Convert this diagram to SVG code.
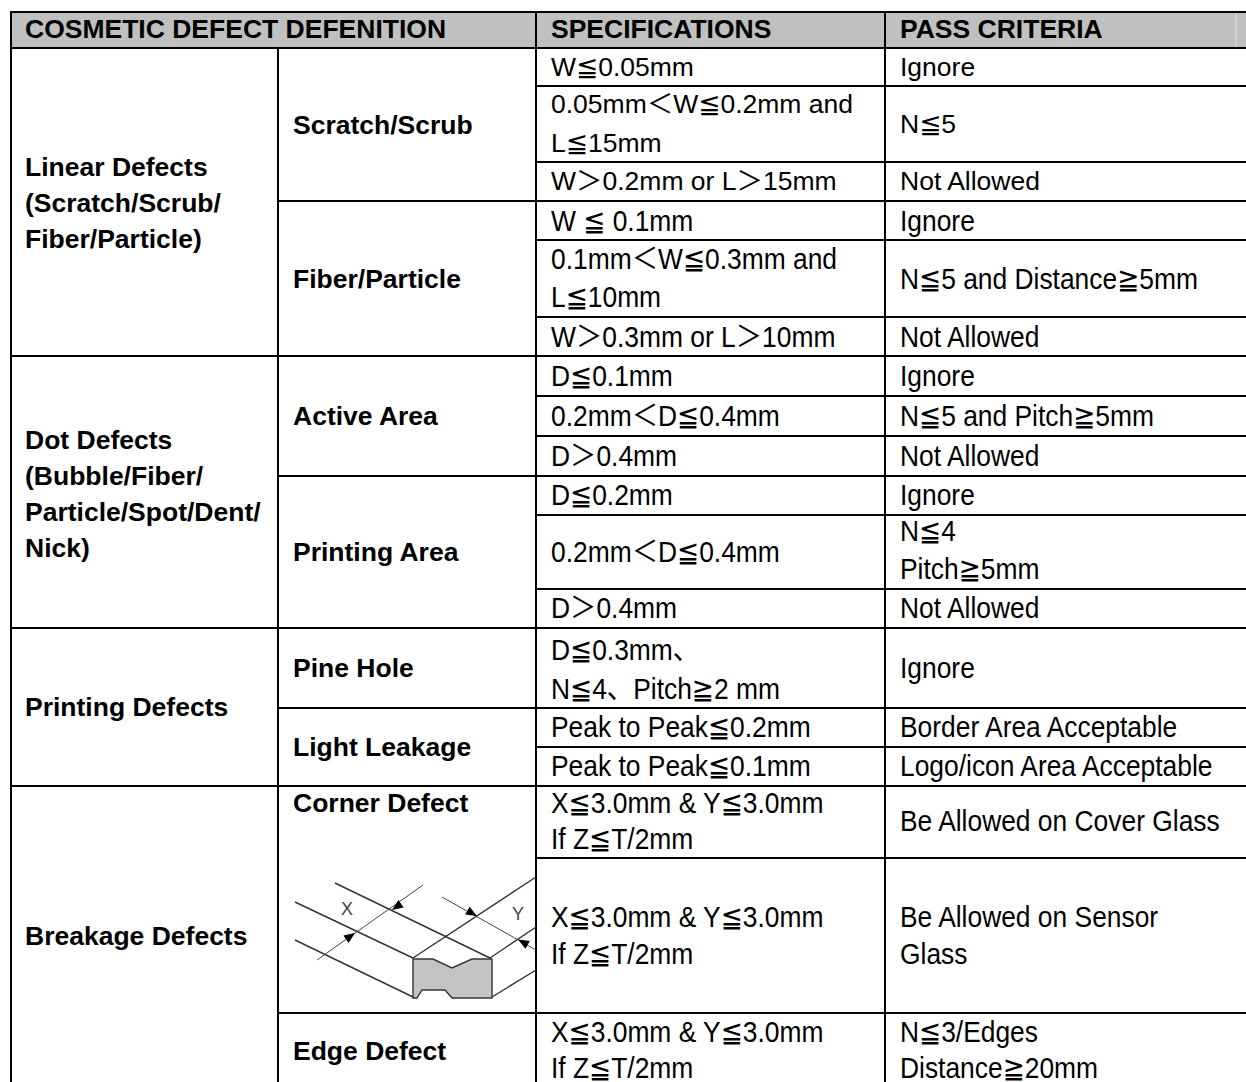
<svg xmlns="http://www.w3.org/2000/svg" width="1246" height="1082" viewBox="0 0 1246 1082">
<style>
text{fill:#000}
.h,.b{font-family:"Liberation Sans",Arial,sans-serif;font-weight:bold;font-size:26.5px}
.r{font-family:"Liberation Sans",Arial,"DejaVu Sans","Noto Sans CJK SC",sans-serif;font-size:26.5px}
.n{font-family:"Liberation Sans",Arial,"DejaVu Sans","Noto Sans CJK SC",sans-serif;font-size:29px}
.grid line{stroke:#000;stroke-width:2}
.fig line{stroke:#333;stroke-width:1.4}
.fig .thin{stroke:#444;stroke-width:1}
.lbl{font-family:"Liberation Sans",Arial,sans-serif;font-size:18px;fill:#444}
</style>
<defs>
<path id="ah" d="M0,0 L-11,-4.5 L-11,4.5 Z" fill="#000"/>
</defs>
<rect id="header-bg" x="11" y="12" width="1235" height="36" fill="#c0c0c0"/>
<line x1="1236" y1="13" x2="1236" y2="47" stroke="#e2e2e2" stroke-width="1"/>
<g class="grid" id="grid">
<line x1="10" y1="12" x2="1246" y2="12"/>
<line x1="10" y1="48" x2="1246" y2="48"/>
<line x1="536" y1="86" x2="1246" y2="86"/>
<line x1="536" y1="162" x2="1246" y2="162"/>
<line x1="278" y1="201" x2="1246" y2="201"/>
<line x1="536" y1="240" x2="1246" y2="240"/>
<line x1="536" y1="317" x2="1246" y2="317"/>
<line x1="10" y1="356" x2="1246" y2="356"/>
<line x1="536" y1="396" x2="1246" y2="396"/>
<line x1="536" y1="436" x2="1246" y2="436"/>
<line x1="278" y1="476" x2="1246" y2="476"/>
<line x1="536" y1="515" x2="1246" y2="515"/>
<line x1="536" y1="589" x2="1246" y2="589"/>
<line x1="10" y1="628" x2="1246" y2="628"/>
<line x1="278" y1="708" x2="1246" y2="708"/>
<line x1="536" y1="747" x2="1246" y2="747"/>
<line x1="10" y1="786" x2="1246" y2="786"/>
<line x1="536" y1="858" x2="1246" y2="858"/>
<line x1="278" y1="1013" x2="1246" y2="1013"/>
<line x1="11" y1="11" x2="11" y2="1082"/>
<line x1="278" y1="48" x2="278" y2="1082"/>
<line x1="536" y1="11" x2="536" y2="1082"/>
<line x1="885" y1="11" x2="885" y2="1082"/>
</g>
<g id="header">
<text class="h" x="25" y="38">COSMETIC DEFECT DEFENITION</text>
<text class="h" x="551" y="38">SPECIFICATIONS</text>
<text class="h" x="900" y="38">PASS CRITERIA</text>
</g>
<g id="categories">
<text class="b" x="25" y="176">Linear Defects</text>
<text class="b" x="25" y="212">(Scratch/Scrub/</text>
<text class="b" x="25" y="248">Fiber/Particle)</text>
<text class="b" x="25" y="449">Dot Defects</text>
<text class="b" x="25" y="485">(Bubble/Fiber/</text>
<text class="b" x="25" y="521">Particle/Spot/Dent/</text>
<text class="b" x="25" y="557">Nick)</text>
<text class="b" x="25" y="716">Printing Defects</text>
<text class="b" x="25" y="945">Breakage Defects</text>
</g>
<g id="subcategories">
<text class="b" x="293" y="134">Scratch/Scrub</text>
<text class="b" x="293" y="288">Fiber/Particle</text>
<text class="b" x="293" y="425">Active Area</text>
<text class="b" x="293" y="561">Printing Area</text>
<text class="b" x="293" y="677">Pine Hole</text>
<text class="b" x="293" y="756">Light Leakage</text>
<text class="b" x="293" y="812">Corner Defect</text>
<text class="b" x="293" y="1060">Edge Defect</text>
</g>
<g id="specifications">
<text class="r" x="551" y="76">W≦0.05mm</text>
<text class="r" x="551" y="113">0.05mm＜W≦0.2mm and</text>
<text class="r" x="551" y="152">L≦15mm</text>
<text class="r" x="551" y="190">W＞0.2mm or L＞15mm</text>
<text class="n" transform="translate(551,231) scale(0.91,1)">W ≦ 0.1mm</text>
<text class="n" transform="translate(551,269) scale(0.91,1)">0.1mm＜W≦0.3mm and</text>
<text class="n" transform="translate(551,307) scale(0.91,1)">L≦10mm</text>
<text class="n" transform="translate(551,347) scale(0.91,1)">W＞0.3mm or L＞10mm</text>
<text class="n" transform="translate(551,386) scale(0.91,1)">D≦0.1mm</text>
<text class="n" transform="translate(551,426) scale(0.91,1)">0.2mm＜D≦0.4mm</text>
<text class="n" transform="translate(551,466) scale(0.91,1)">D＞0.4mm</text>
<text class="n" transform="translate(551,505) scale(0.91,1)">D≦0.2mm</text>
<text class="n" transform="translate(551,562) scale(0.91,1)">0.2mm＜D≦0.4mm</text>
<text class="n" transform="translate(551,618) scale(0.91,1)">D＞0.4mm</text>
<text class="n" transform="translate(551,660) scale(0.91,1)">D≦0.3mm、</text>
<text class="n" transform="translate(551,699) scale(0.91,1)">N≦4、Pitch≧2 mm</text>
<text class="n" transform="translate(551,737) scale(0.91,1)">Peak to Peak≦0.2mm</text>
<text class="n" transform="translate(551,776) scale(0.91,1)">Peak to Peak≦0.1mm</text>
<text class="n" transform="translate(551,813) scale(0.91,1)">X≦3.0mm &amp; Y≦3.0mm</text>
<text class="n" transform="translate(551,849) scale(0.91,1)">If Z≦T/2mm</text>
<text class="n" transform="translate(551,927) scale(0.91,1)">X≦3.0mm &amp; Y≦3.0mm</text>
<text class="n" transform="translate(551,964) scale(0.91,1)">If Z≦T/2mm</text>
<text class="n" transform="translate(551,1042) scale(0.91,1)">X≦3.0mm &amp; Y≦3.0mm</text>
<text class="n" transform="translate(551,1078) scale(0.91,1)">If Z≦T/2mm</text>
</g>
<g id="criteria">
<text class="r" x="900" y="76">Ignore</text>
<text class="r" x="900" y="133">N≦5</text>
<text class="r" x="900" y="190">Not Allowed</text>
<text class="n" transform="translate(900,231) scale(0.91,1)">Ignore</text>
<text class="n" transform="translate(900,289) scale(0.91,1)">N≦5 and Distance≧5mm</text>
<text class="n" transform="translate(900,347) scale(0.91,1)">Not Allowed</text>
<text class="n" transform="translate(900,386) scale(0.91,1)">Ignore</text>
<text class="n" transform="translate(900,426) scale(0.91,1)">N≦5 and Pitch≧5mm</text>
<text class="n" transform="translate(900,466) scale(0.91,1)">Not Allowed</text>
<text class="n" transform="translate(900,505) scale(0.91,1)">Ignore</text>
<text class="n" transform="translate(900,541) scale(0.91,1)">N≦4</text>
<text class="n" transform="translate(900,579) scale(0.91,1)">Pitch≧5mm</text>
<text class="n" transform="translate(900,618) scale(0.91,1)">Not Allowed</text>
<text class="n" transform="translate(900,678) scale(0.91,1)">Ignore</text>
<text class="n" transform="translate(900,737) scale(0.91,1)">Border Area Acceptable</text>
<text class="n" transform="translate(900,776) scale(0.91,1)">Logo/icon Area Acceptable</text>
<text class="n" transform="translate(900,831) scale(0.91,1)">Be Allowed on Cover Glass</text>
<text class="n" transform="translate(900,927) scale(0.91,1)">Be Allowed on Sensor</text>
<text class="n" transform="translate(900,964) scale(0.91,1)">Glass</text>
<text class="n" transform="translate(900,1042) scale(0.91,1)">N≦3/Edges</text>
<text class="n" transform="translate(900,1078) scale(0.91,1)">Distance≧20mm</text>
</g>
<g id="corner-figure" class="fig">
<line x1="335" y1="883" x2="490" y2="958"/>
<line x1="295" y1="902" x2="413" y2="958"/>
<line x1="295" y1="940" x2="413" y2="997"/>
<line class="thin" x1="442" y1="897" x2="536" y2="950"/>
<line class="thin" x1="317" y1="960" x2="423" y2="885"/>
<line x1="413" y1="958" x2="536" y2="877"/>
<line x1="490" y1="958" x2="536" y2="927"/>
<line x1="492" y1="997" x2="536" y2="970"/>
<polygon points="413,959 433,959 452,968 472,959 492,959 492,998 452,998 445,990 422,990 417,998 413,998" fill="#c4c4c4" stroke="#333" stroke-width="1.4"/>
<use href="#ah" transform="translate(355,933) rotate(-35)"/>
<use href="#ah" transform="translate(392,910) rotate(145)"/>
<use href="#ah" transform="translate(477,916) rotate(29)"/>
<use href="#ah" transform="translate(518,939.5) rotate(209)"/>
<text class="lbl" x="341" y="915">X</text>
<text class="lbl" x="512" y="920">Y</text>
</g>
</svg>
